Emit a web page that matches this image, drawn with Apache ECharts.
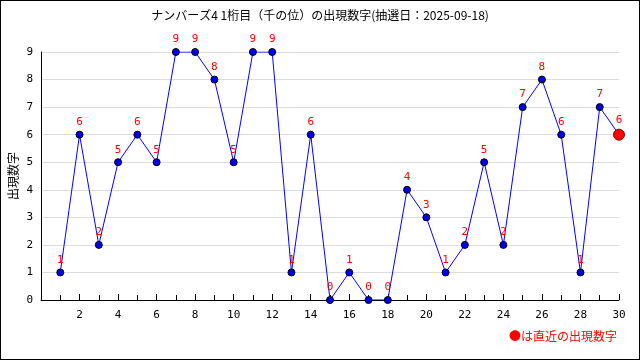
<!DOCTYPE html>
<html><head><meta charset="utf-8">
<script src="https://cdn.jsdelivr.net/npm/echarts@6/dist/echarts.min.js"></script>
<style>html,body{margin:0;padding:0;background:#fff}#c{width:640px;height:360px;box-sizing:border-box;border:1px solid #000}</style>
</head><body><div id="c"></div>
<script>
const draws = [1,2,3,4,5,6,7,8,9,10,11,12,13,14,15,16,17,18,19,20,21,22,23,24,25,26,27,28,29,30];
const digits = [1,6,2,5,6,5,9,9,8,5,9,9,1,6,0,1,0,0,4,3,1,2,5,2,7,8,6,1,7,6];
const titleText = 'ナンバーズ4 1桁目（千の位）の出現数字(抽選日：2025-09-18)';
const yName = '出現数字';
const noteText = '●は直近の出現数字';

const chart = echarts.init(document.getElementById('c'), null, {renderer:'canvas'});
const data = draws.map((d,i)=>{
  const last = i === draws.length-1;
  return {value:[d,digits[i]], symbolSize: last?11:7,
    itemStyle: last?{color:'#ff0000',borderColor:'#800000',borderWidth:1}:{color:'#0000ee',borderColor:'#000',borderWidth:1}};
});
const font = '"DejaVu Sans Mono", monospace';
const cjk = '"Noto Sans CJK JP", sans-serif';
chart.setOption({
  animation:false,
  title:{text:titleText,left:'center',top:3,textStyle:{fontSize:12,fontWeight:'normal',color:'#000',fontFamily:cjk}},
  grid:{left:40,right:20,top:51,bottom:59,containLabel:false,outerBoundsMode:'none'},
  xAxis:{type:'value',min:0,max:30,interval:2,
    axisLine:{onZero:false,lineStyle:{color:'#000',width:1}},
    axisTick:{show:true,inside:true,length:6,lineStyle:{color:'#000'}},
    minorTick:{show:true,splitNumber:2,length:5,lineStyle:{color:'#000'}},
    splitLine:{show:false},
    axisLabel:{color:'#000',fontSize:11,fontFamily:font,margin:10,formatter:v=>v===0?'':String(v)}},
  yAxis:{type:'value',min:0,max:9,interval:1,
    axisLine:{show:true,lineStyle:{color:'#000'}},
    axisTick:{show:false},
    splitLine:{show:true,lineStyle:{color:'#dddddd'}},
    axisLabel:{color:'#000',fontSize:11,fontFamily:font,margin:8}},
  series:[{type:'line',data:data,symbol:'circle',
    lineStyle:{color:'#0000ff',width:1},
    label:{show:true,position:'top',distance:3,color:'#ff0000',fontSize:11,fontFamily:font}}],
  graphic:[
    {type:'text',right:22,top:329,style:{text:noteText,fill:'#ff0000',fontSize:12,fontFamily:cjk}},
    {type:'text',x:12,y:175,rotation:Math.PI/2,style:{text:yName,fill:'#000',fontSize:12,fontFamily:cjk,align:'center',verticalAlign:'middle'}}
  ]
});
</script></body></html>
